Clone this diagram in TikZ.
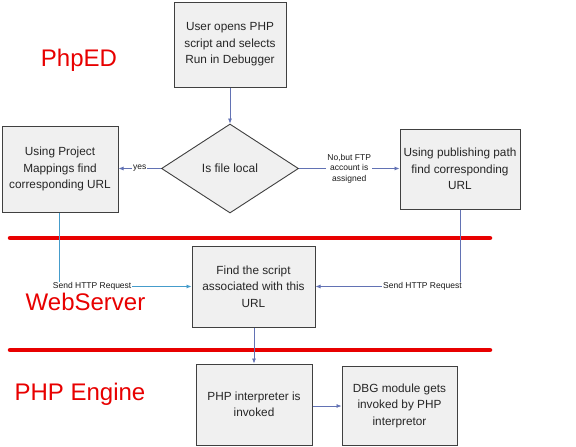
\documentclass[tikz,border=0pt]{standalone}
\usepackage{fontspec}
\setmainfont{Liberation Sans}
\usetikzlibrary{shapes.geometric,arrows.meta}
\definecolor{boxfill}{HTML}{F0F0F0}
\definecolor{boxline}{HTML}{404040}
\definecolor{conn}{HTML}{6272B4}
\definecolor{redline}{HTML}{E80000}
\tikzset{
  x=1pt, y=-1pt,
  flowbox/.style={draw=boxline, line width=1pt, fill=boxfill, align=center, inner sep=0pt,
    font=\fontsize{11.8}{16.5}\selectfont, text=black!85},
  decision/.style={diamond, draw=boxline, line width=0.9pt, fill=boxfill, inner sep=0pt,
    minimum width=137pt, minimum height=89pt, font=\fontsize{12}{16.5}\selectfont, text=black!85},
  conn/.style={draw=conn, line width=0.7pt, -{Latex[length=5pt,width=4pt]}},
  lbl/.style={fill=white, inner sep=1pt, font=\fontsize{8.5}{10.5}\selectfont, align=center, text=black!90},
  layer/.style={text=redline, font=\fontsize{24}{28}\selectfont},
  sep/.style={draw=redline, line width=4.5pt, line cap=round}
}
\begin{document}
\begin{tikzpicture}
\useasboundingbox (0,0) rectangle (576,447);
\fill[white] (0,0) rectangle (576,447);

% separators
\coordinate (s1a) at (10,238); \coordinate (s1b) at (490,238);
\coordinate (s2a) at (10,350); \coordinate (s2b) at (490,350);
\draw[sep] (s1a) -- (s1b);
\draw[sep] (s2a) -- (s2b);

% layer labels
\node[layer] (phped) at (79,60) {PhpED};
\node[layer] (websrv) at (85.5,302) {WebServer};
\node[layer] (engine) at (80,394) {PHP Engine};

% nodes
\node[flowbox, minimum width=112pt, minimum height=85pt] (start) at (230,44.5)
  {User opens PHP\\script and selects\\Run in Debugger};
\node[decision] (local) at (230,168.5) {Is file local};
\node[flowbox, minimum width=116pt, minimum height=86pt] (mapping) at (60,169)
  {Using Project\\Mappings find\\corresponding URL};
\node[flowbox, minimum width=120pt, minimum height=80pt] (publish) at (460,169)
  {Using publishing path\\find corresponding\\URL};
\node[flowbox, minimum width=123pt, minimum height=81pt] (findscript) at (253.5,286.5)
  {Find the script\\associated with this\\URL};
\node[flowbox, minimum width=116pt, minimum height=81pt] (interp) at (254,404.5)
  {PHP interpreter is\\invoked};
\node[flowbox, minimum width=115pt, minimum height=79pt] (dbg) at (399.5,405.5)
  {DBG module gets\\invoked by PHP\\interpretor};

% connectors
\draw[conn] (start) -- (local);
\draw[conn] (local.west) -- node[lbl, pos=0.5] {yes} (mapping.east |- local.west);
\draw[conn] (local.east) -- node[lbl, pos=0.5] {No,but FTP\\account is\\assigned} (publish.west |- local.east);
\draw[conn, draw=conn!70!cyan] (mapping.south -| 59,0) |- node[lbl, pos=0.625] {Send HTTP Request} (findscript.west);
\draw[conn] (publish.south) |- node[lbl, pos=0.63] {Send HTTP Request} (findscript.east);
\draw[conn] (findscript.south -| interp.north) -- (interp.north);
\draw[conn] (interp.east |- 0,406) -- (dbg.west |- 0,406);
\end{tikzpicture}
\end{document}
